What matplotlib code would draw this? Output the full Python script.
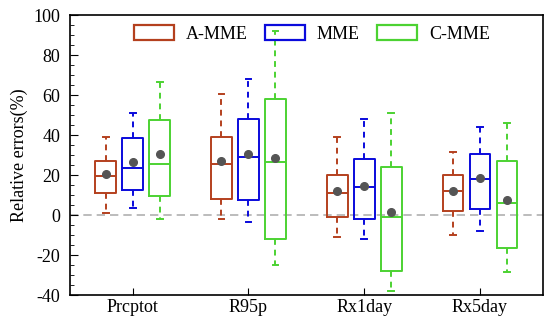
import matplotlib.pyplot as plt
from matplotlib.patches import Patch
from matplotlib.ticker import MultipleLocator
import numpy as np

plt.rcParams['font.family'] = ['Liberation Serif', 'DejaVu Serif']
plt.rcParams['axes.unicode_minus'] = False

categories = ['Prcptot', 'R95p', 'Rx1day', 'Rx5day']
models = ['A-MME', 'MME', 'C-MME']
colors = ['#B4401E', '#0A0ADC', '#4CD232']

# per model: one value per category
whislo = {'A-MME': [1, -2, -11.2, -9.8],
          'MME':   [3.3, -3.3, -12.2, -7.8],
          'C-MME': [-2, -25, -37.8, -28.3]}
q1 = {'A-MME': [11, 7.8, -0.8, 1.8],
      'MME':   [12.5, 7.5, -2.2, 3.2],
      'C-MME': [9.5, -12, -28, -16.7]}
med = {'A-MME': [19.5, 25.5, 10.8, 12],
       'MME':   [23.7, 29.2, 13.8, 17.8],
       'C-MME': [25.3, 26.3, -1.2, 6.2]}
q3 = {'A-MME': [27, 39, 20.2, 20],
      'MME':   [38.3, 48, 27.8, 30.5],
      'C-MME': [47.5, 57.8, 24.2, 27]}
whishi = {'A-MME': [39, 60.3, 39, 31.7],
          'MME':   [51, 68, 48, 43.8],
          'C-MME': [66.7, 92, 51.2, 45.8]}
means = {'A-MME': [20.3, 27.2, 12.2, 12.2],
         'MME':   [26.5, 30.5, 14.7, 18.7],
         'C-MME': [30.5, 28.3, 1.3, 7.5]}

fig = plt.figure(figsize=(5.5, 3.2), dpi=100)
ax = fig.add_axes([0.127, 0.078, 0.86, 0.875])

ax.axhline(0, color='#b0b0b0', lw=1.2, ls=(0, (5, 3)), zorder=0)

x = np.arange(1, len(categories) + 1)
offs = [-0.233, 0, 0.233]
for m, c, o in zip(models, colors, offs):
    stats = []
    for i in range(len(categories)):
        stats.append(dict(whislo=whislo[m][i], q1=q1[m][i], med=med[m][i],
                          q3=q3[m][i], whishi=whishi[m][i], mean=means[m][i],
                          fliers=[]))
    ax.bxp(stats, positions=x + o, widths=0.18, showmeans=True,
           capwidths=0.05,
           boxprops=dict(color=c, lw=1.4),
           medianprops=dict(color=c, lw=1.4),
           whiskerprops=dict(color=c, lw=1.4, ls=(0, (3, 2.5))),
           capprops=dict(color=c, lw=1.4),
           meanprops=dict(marker='o', markerfacecolor='#555555',
                          markeredgecolor='#555555', markersize=5.5),
           manage_ticks=False)

ax.set_xlim(0.457, 4.543)
ax.set_ylim(-40, 100)
ax.set_xticks(x)
ax.set_xticklabels(categories, fontsize=13)
ax.yaxis.set_major_locator(MultipleLocator(20))
ax.yaxis.set_minor_locator(MultipleLocator(5))
ax.tick_params(axis='y', which='major', direction='in', length=6, labelsize=13, pad=7)
ax.tick_params(axis='y', which='minor', direction='in', length=3)
ax.tick_params(axis='x', direction='in', length=5, pad=3)
ax.set_ylabel('Relative errors(%)', fontsize=13, labelpad=4)
for s in ax.spines.values():
    s.set_linewidth(1.2)

handles = [Patch(facecolor='none', edgecolor=c, lw=1.6, label=m)
           for m, c in zip(models, colors)]
ax.legend(handles=handles, loc='center', ncol=3, frameon=False,
          fontsize=13, handlelength=2.2, handleheight=0.95, handletextpad=0.67,
          columnspacing=0.95, bbox_to_anchor=(0.512, 0.934))

fig.savefig('out.png', dpi=100)
